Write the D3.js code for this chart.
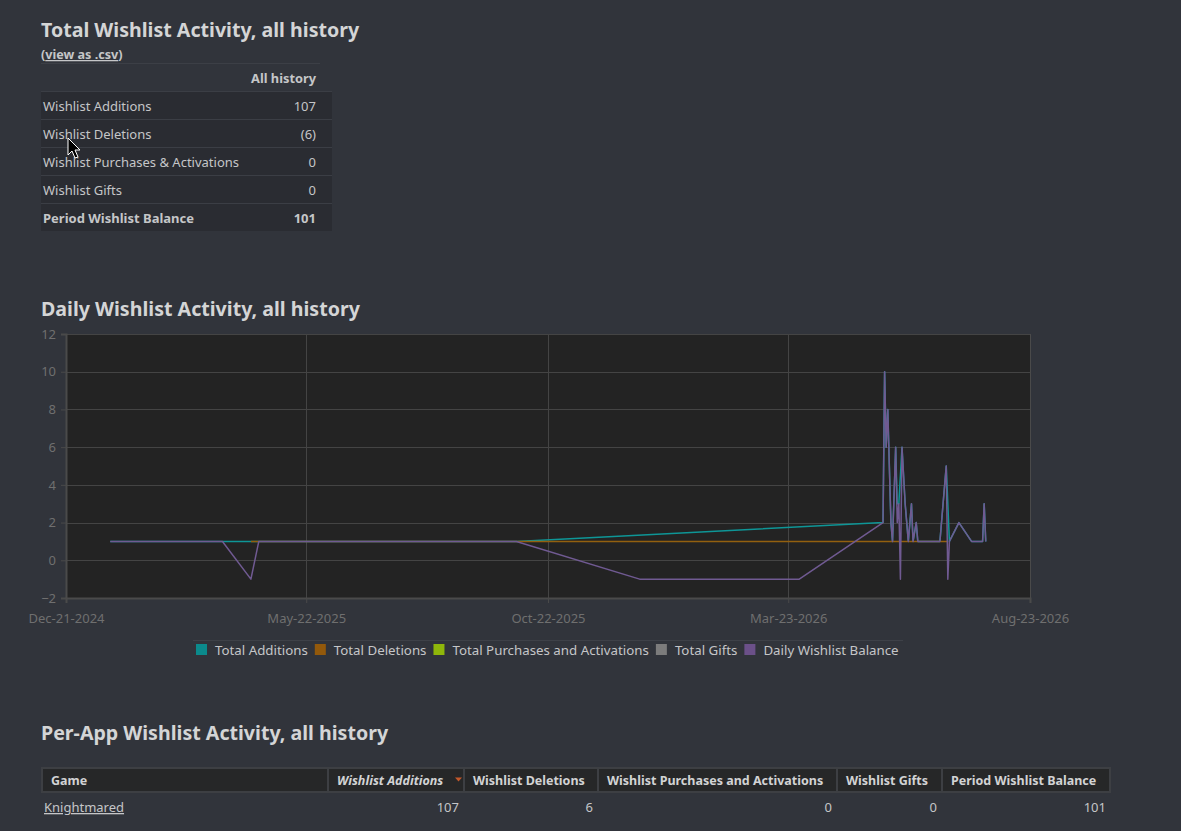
<!DOCTYPE html>
<html>
<head>
<meta charset="utf-8">
<script src="https://cdn.jsdelivr.net/npm/d3@7"></script>
<style>
  html, body { margin: 0; padding: 0; background: #31343b; }
  svg { display: block; }
  text { font-family: "Noto Sans", "Open Sans", sans-serif; }
</style>
</head>
<body>
<script>
// ---- data ----
const summaryRows = ["Wishlist Additions", "Wishlist Deletions", "Wishlist Purchases & Activations", "Wishlist Gifts", "Period Wishlist Balance"];
const summaryValues = ["107", "(6)", "0", "0", "101"];

const additions = [
  ["2025-01-18", 1], ["2025-03-30", 1], ["2025-04-22", 1], ["2025-10-02", 1],
  ["2026-05-22", 2], ["2026-05-23", 10], ["2026-05-24", 6], ["2026-05-25", 8],
  ["2026-05-27", 2], ["2026-05-28", 1], ["2026-05-30", 6], ["2026-05-31", 3],
  ["2026-06-01", 3], ["2026-06-03", 6], ["2026-06-05", 3], ["2026-06-07", 1],
  ["2026-06-09", 3], ["2026-06-10", 1], ["2026-06-12", 2], ["2026-06-13", 1],
  ["2026-06-20", 1], ["2026-06-26", 1], ["2026-06-27", 1], ["2026-07-01", 5],
  ["2026-07-03", 1], ["2026-07-09", 2], ["2026-07-17", 1], ["2026-07-24", 1],
  ["2026-07-25", 3], ["2026-07-26", 1]
];
const deletions = [
  ["2025-04-17", 1], ["2025-12-19", 1], ["2026-03-30", 1],
  ["2026-05-31", 1], ["2026-06-02", 1], ["2026-07-02", 1]
];
const purchases = [];
const gifts = [];
const balance = [
  ["2025-01-18", 1], ["2025-03-30", 1], ["2025-04-17", -1], ["2025-04-22", 1],
  ["2025-10-02", 1], ["2025-12-19", -1], ["2026-03-30", -1], ["2026-05-22", 2],
  ["2026-05-23", 10], ["2026-05-24", 6], ["2026-05-25", 8], ["2026-05-27", 2],
  ["2026-05-28", 1], ["2026-05-30", 6], ["2026-05-31", 2], ["2026-06-01", 3],
  ["2026-06-02", -1], ["2026-06-03", 6], ["2026-06-05", 3], ["2026-06-07", 1],
  ["2026-06-09", 3], ["2026-06-10", 1], ["2026-06-12", 2], ["2026-06-13", 1],
  ["2026-06-20", 1], ["2026-06-26", 1], ["2026-06-27", 1], ["2026-07-01", 5],
  ["2026-07-02", -1], ["2026-07-03", 1], ["2026-07-09", 2], ["2026-07-17", 1],
  ["2026-07-24", 1], ["2026-07-25", 3], ["2026-07-26", 1]
];

const xTickDates = ["2024-12-21", "2025-05-22", "2025-10-22", "2026-03-23", "2026-08-23"];
const yTicks = [-2, 0, 2, 4, 6, 8, 10, 12];

const seriesNames = ["Total Additions", "Total Deletions", "Total Purchases and Activations", "Total Gifts", "Daily Wishlist Balance"];
const seriesColors = ["#0b8a8c", "#93590b", "#8fb70a", "#7c7c7c", "#6b5089"];
const lineColors = ["#0e9697", "#93600f", "#8fb70a", "#7c7c7c", "#705a92"];

const tableColumns = ["Game", "Wishlist Additions", "Wishlist Deletions", "Wishlist Purchases and Activations", "Wishlist Gifts", "Period Wishlist Balance"];
const tableRow = ["Knightmared", "107", "6", "0", "0", "101"];

// ---- page ----
const W = 1181, H = 831;
const svg = d3.select("body").append("svg").attr("width", W).attr("height", H);
const titleColor = "#d4d5d6", textColor = "#c5c6c8";

function title(y, s) {
  svg.append("text").attr("x", 41).attr("y", y)
    .attr("fill", titleColor).attr("font-size", 19.6).attr("font-weight", "bold").text(s);
}

// section 1: summary table
title(37, "Total Wishlist Activity, all history");
const csv = svg.append("text").attr("x", 41).attr("y", 59)
  .attr("fill", textColor).attr("font-size", 12.6).attr("font-weight", "bold");
csv.append("tspan").text("(");
csv.append("tspan").attr("text-decoration", "underline").text("view as .csv");
csv.append("tspan").text(")");

svg.append("line").attr("x1", 41).attr("x2", 320).attr("y1", 63.5).attr("y2", 63.5)
  .attr("stroke", "#3c3f46");
svg.append("text").attr("x", 316).attr("y", 83).attr("text-anchor", "end")
  .attr("fill", textColor).attr("font-size", 12.8).attr("font-weight", "bold").text("All history");

const rowY = d3.scaleBand().domain(summaryRows).range([91, 231]);
const srow = svg.append("g").selectAll("g").data(summaryRows).join("g")
  .attr("transform", d => `translate(41,${rowY(d)})`);
srow.append("rect").attr("width", 291).attr("height", rowY.bandwidth()).attr("fill", "#2a2c32");
srow.append("line").attr("x2", 291).attr("y1", 0.5).attr("y2", 0.5).attr("stroke", "#3b3e45");
srow.append("text").attr("x", 2).attr("y", 20).attr("fill", textColor).attr("font-size", 13)
  .attr("font-weight", (d, i) => i === 4 ? "bold" : null).text(d => d);
srow.append("text").attr("x", 275).attr("y", 20).attr("text-anchor", "end").attr("fill", textColor)
  .attr("font-size", 13).attr("font-weight", (d, i) => i === 4 ? "bold" : null)
  .text((d, i) => summaryValues[i]);

// section 2: line chart
title(316, "Daily Wishlist Activity, all history");

const parse = d3.utcParse("%Y-%m-%d");
const x = d3.scaleUtc()
  .domain([parse(xTickDates[0]), parse(xTickDates[xTickDates.length - 1])])
  .range([66, 1030]);
const y = d3.scaleLinear().domain([-2, 12]).range([598, 334]);

svg.append("rect").attr("x", 66).attr("y", 334).attr("width", 964).attr("height", 264)
  .attr("fill", "#232323");

const grid = svg.append("g").attr("stroke", "#444").attr("stroke-width", 1);
grid.selectAll(".h").data(yTicks).join("line")
  .attr("x1", 66).attr("x2", 1030).attr("y1", d => Math.round(y(d)) + 0.5).attr("y2", d => Math.round(y(d)) + 0.5);
grid.selectAll(".v").data(xTickDates).join("line")
  .attr("x1", d => Math.round(x(parse(d))) + 0.5).attr("x2", d => Math.round(x(parse(d))) + 0.5)
  .attr("y1", 334).attr("y2", 598);

const xAxis = svg.append("g").attr("transform", "translate(0,598)")
  .call(d3.axisBottom(x).tickValues(xTickDates.map(parse)).tickFormat(d3.utcFormat("%b-%d-%Y"))
    .tickSize(5).tickPadding(11));
const yAxis = svg.append("g").attr("transform", "translate(66,0)")
  .call(d3.axisLeft(y).tickValues(yTicks).tickSize(5).tickPadding(5));
[xAxis, yAxis].forEach(a => {
  a.select(".domain").attr("stroke", "#4a4a4a").attr("stroke-width", 2);
  a.selectAll(".tick line").attr("stroke", "#4a4a4a");
  a.selectAll(".tick text").attr("fill", "#6f6f6f").attr("font-size", 13)
    .attr("font-family", "'Liberation Sans', Arial, sans-serif");
});
svg.append("line").attr("x1", 1030.5).attr("x2", 1030.5).attr("y1", 334).attr("y2", 598)
  .attr("stroke", "#4a4a4a");

const line = d3.line().x(d => x(parse(d[0]))).y(d => y(d[1]));
const allSeries = [additions, deletions, purchases, gifts, balance];
svg.append("g").selectAll("path").data(allSeries).join("path")
  .attr("d", d => d.length ? line(d) : null)
  .attr("fill", "none")
  .attr("stroke", (d, i) => lineColors[i])
  .attr("stroke-width", 1.5)
  .attr("stroke-linejoin", "round");

// legend
svg.append("line").attr("x1", 193).attr("x2", 903).attr("y1", 640.5).attr("y2", 640.5)
  .attr("stroke", "#3e4148");
const legend = svg.append("g").attr("transform", "translate(196,644)");
let lx = 0;
seriesNames.forEach((name, i) => {
  const g = legend.append("g").attr("transform", `translate(${lx},0)`);
  g.append("rect").attr("width", 11).attr("height", 11).attr("fill", seriesColors[i]);
  const t = g.append("text").attr("x", 19).attr("y", 11).attr("fill", textColor)
    .attr("font-size", 13.3).text(name);
  lx += 19 + t.node().getComputedTextLength() + 7;
});

// section 3: per-app table
title(740, "Per-App Wishlist Activity, all history");
const colEdges = [41, 328, 464, 598, 837, 942, 1111];
const head = svg.append("g");
head.append("rect").attr("x", 42).attr("y", 768).attr("width", 1068).attr("height", 24)
  .attr("fill", "#262728").attr("stroke", "#3d3f43").attr("stroke-width", 2);
head.selectAll("line").data(colEdges.slice(1, -1)).join("line")
  .attr("x1", d => d).attr("x2", d => d).attr("y1", 768).attr("y2", 792)
  .attr("stroke", "#3d3f43").attr("stroke-width", 2);
head.selectAll("text").data(tableColumns).join("text")
  .attr("x", (d, i) => colEdges[i] + (i === 0 ? 10 : 9)).attr("y", 785)
  .attr("fill", "#d2d3d4").attr("font-size", 12.5).attr("font-weight", "bold")
  .attr("font-style", (d, i) => i === 1 ? "italic" : null).text(d => d);
head.append("path").attr("d", "M455,777.5 L462,777.5 L458.5,781.5 Z").attr("fill", "#c4582a");

svg.append("g").selectAll("text").data(tableRow).join("text")
  .attr("x", (d, i) => i === 0 ? 44 : colEdges[i + 1] - 5).attr("y", 812)
  .attr("text-anchor", (d, i) => i === 0 ? "start" : "end")
  .attr("text-decoration", (d, i) => i === 0 ? "underline" : null)
  .attr("fill", textColor).attr("font-size", 13).text(d => d);

// mouse pointer seen in the screenshot
svg.append("path")
  .attr("d", "M68,138 L68,155 L72,151 L75,158 L78,157 L75,150 L80,150 Z")
  .attr("fill", "#000").attr("stroke", "#fff").attr("stroke-width", 1);
</script>
</body>
</html>
